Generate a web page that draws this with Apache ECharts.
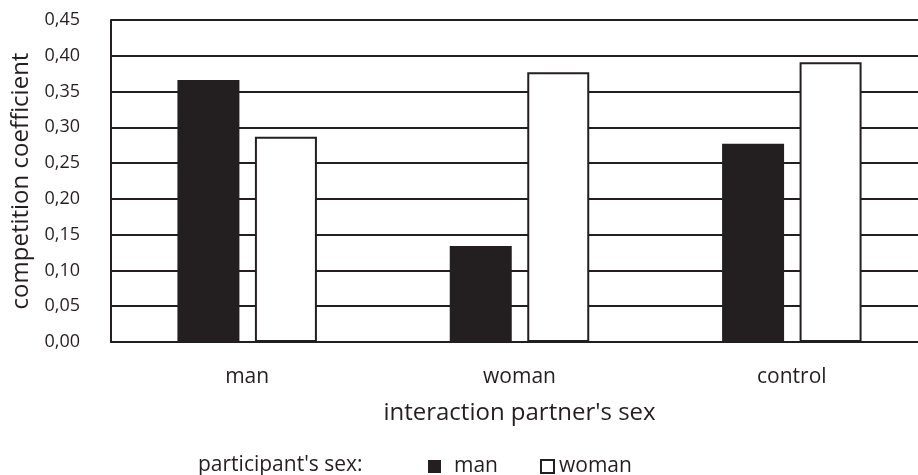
<!DOCTYPE html>
<html>
<head>
<meta charset="utf-8">
<script src="https://cdn.jsdelivr.net/npm/echarts@6/dist/echarts.min.js"></script>
<style>
html,body{margin:0;padding:0;background:#fff;}
#chart{width:918px;height:475px;}
</style>
</head>
<body>
<div id="chart"></div>
<script>
var categories = ['man', 'woman', 'control'];
var seriesNames = ['man', 'woman'];
var manValues = [0.366, 0.134, 0.277];
var womanValues = [0.287, 0.377, 0.391];
var yTicks = { min: 0, max: 0.45, interval: 0.05 };

var ink = '#231f20';
var font = 'Open Sans';

var chart = echarts.init(document.getElementById('chart'), null, { renderer: 'canvas' });
chart.setOption({
  animation: false,
  backgroundColor: '#fff',
  textStyle: { fontFamily: font, color: ink },
  grid: { left: 111, top: 20, width: 817, height: 322, containLabel: false, outerBoundsMode: 'none' },
  xAxis: {
    type: 'category',
    data: categories,
    axisLine: { show: true, lineStyle: { color: ink, width: 2 } },
    axisTick: { show: false },
    axisLabel: { color: ink, fontSize: 21, fontFamily: font, margin: 25 },
    name: "interaction partner's sex",
    nameLocation: 'middle',
    nameGap: 59,
    nameTextStyle: { color: ink, fontSize: 24, fontFamily: font }
  },
  yAxis: {
    type: 'value',
    min: yTicks.min,
    max: yTicks.max,
    interval: yTicks.interval,
    axisLine: { show: true, lineStyle: { color: ink, width: 2 } },
    axisTick: { show: false },
    axisLabel: {
      color: ink, fontSize: 18, fontFamily: font, margin: 31,
      formatter: function (v) { return v.toFixed(2).replace('.', ','); }
    },
    splitLine: { show: true, lineStyle: { color: ink, width: 2 } },
    name: 'competition coefficient',
    nameLocation: 'middle',
    nameGap: 75,
    nameRotate: 90,
    nameTextStyle: { color: ink, fontSize: 24, fontFamily: font }
  },
  legend: {
    left: 428,
    top: 456,
    icon: 'rect',
    itemWidth: 13,
    itemHeight: 13,
    itemGap: 42,
    padding: 0,
    selectedMode: false,
    textStyle: { color: ink, fontSize: 21, fontFamily: font },
    data: [
      { name: seriesNames[0], textStyle: { padding: [0, 0, 0, 8] } },
      { name: seriesNames[1], textStyle: { padding: [0, 0, 0, 0] } }
    ]
  },
  graphic: [{
    type: 'text',
    left: 198,
    top: 455,
    style: { text: "participant's sex:", fill: ink, fontSize: 21, fontFamily: font }
  }],
  series: [
    {
      name: seriesNames[0],
      type: 'bar',
      data: manValues,
      barWidth: 62,
      barGap: '25%',
      itemStyle: { color: ink }
    },
    {
      name: seriesNames[1],
      type: 'bar',
      data: womanValues,
      barWidth: 62,
      barGap: '25%',
      itemStyle: { color: '#ffffff', borderColor: ink, borderWidth: 2 }
    }
  ]
});
</script>
</body>
</html>
